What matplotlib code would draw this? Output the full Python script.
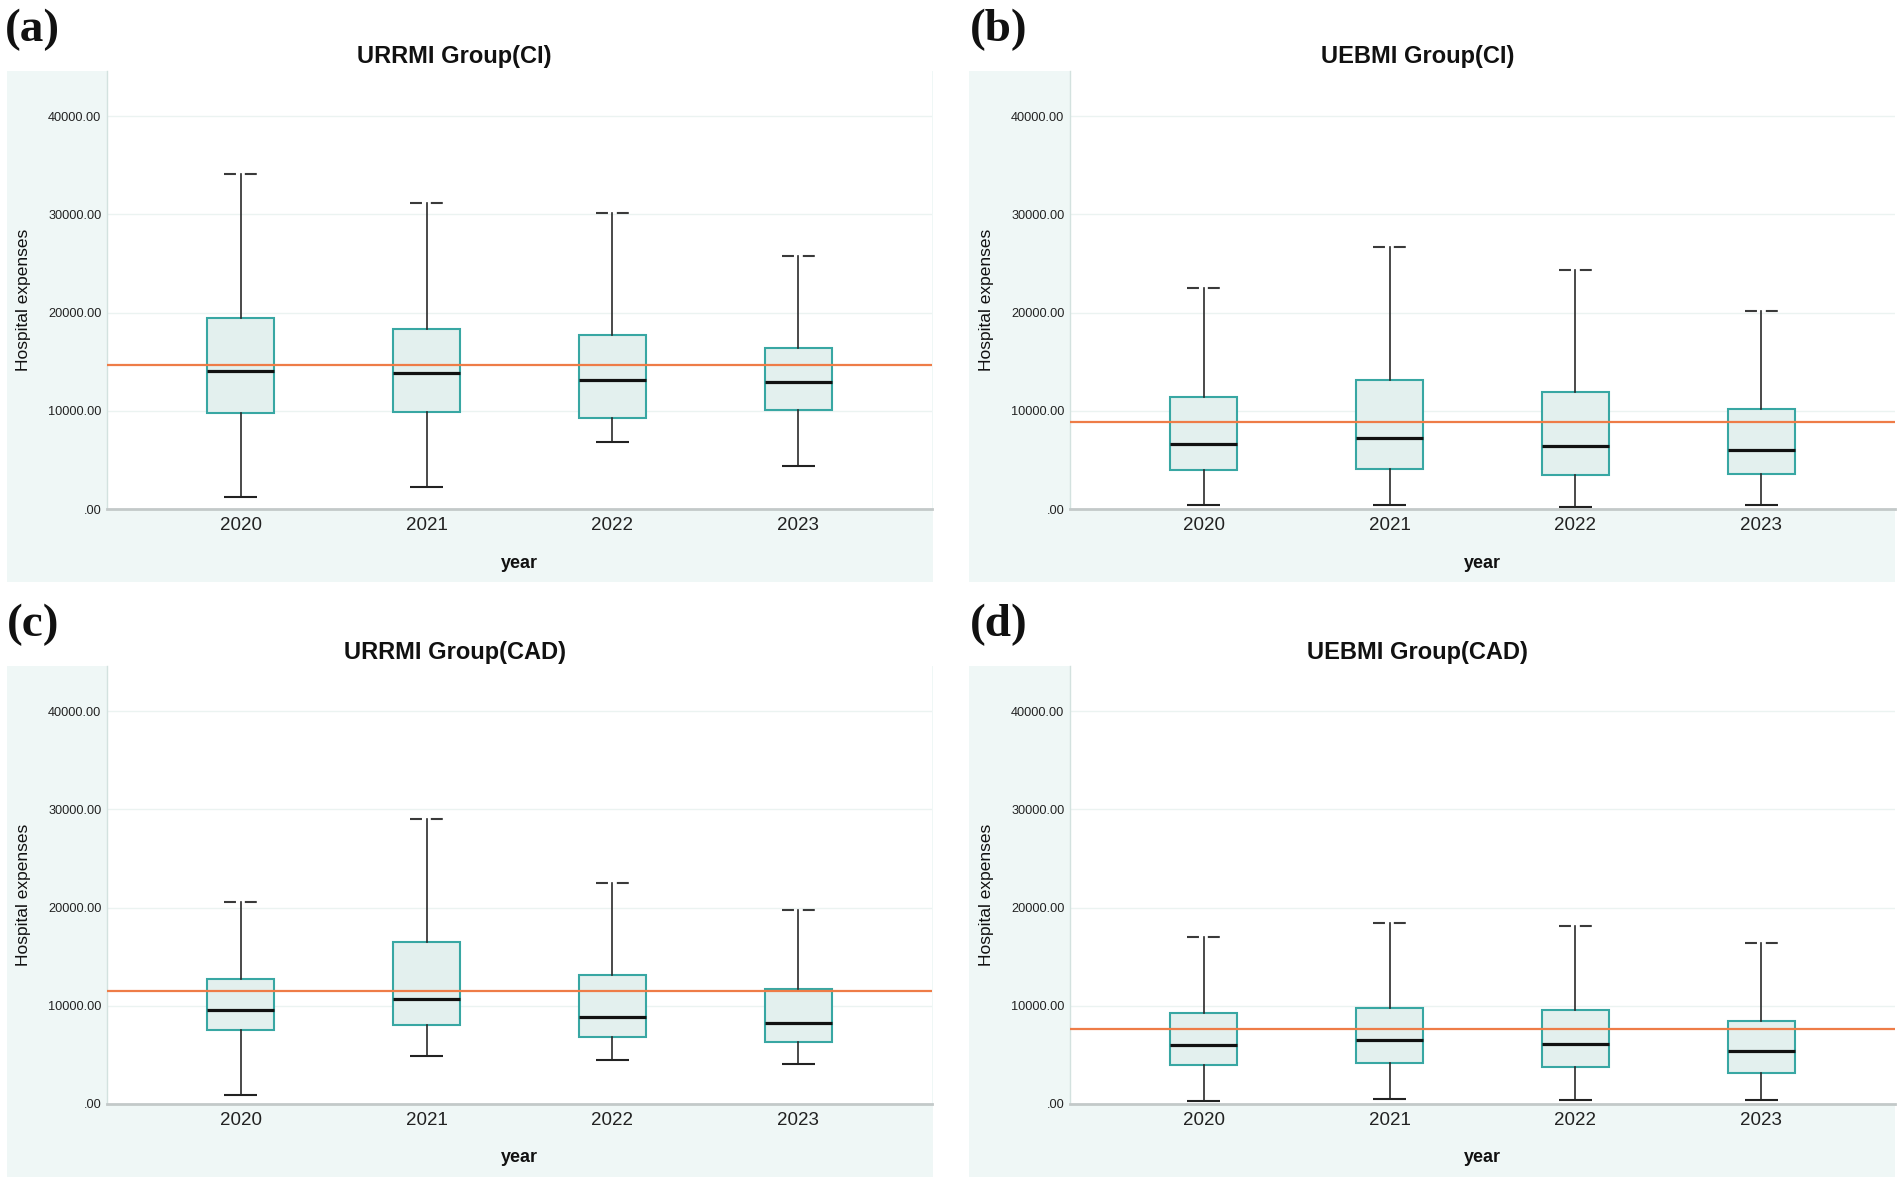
import matplotlib
matplotlib.use("Agg")
import matplotlib.pyplot as plt
from matplotlib.patches import Rectangle

plt.rcParams['font.family'] = ['Liberation Sans', 'DejaVu Sans']
plt.rcParams['lines.scale_dashes'] = False

# ---------------- data ----------------
years = ['2020', '2021', '2022', '2023']
ytick_values = [0, 10000, 20000, 30000, 40000]
ytick_labels = ['.00', '10000.00', '20000.00', '30000.00', '40000.00']

panel_letters = ['(a)', '(b)', '(c)', '(d)']
panel_titles = ['URRMI Group(CI)', 'UEBMI Group(CI)', 'URRMI Group(CAD)', 'UEBMI Group(CAD)']

# (a) URRMI Group(CI)
a_whislo = [1220, 2290, 6830, 4350]
a_q1 = [9770, 9850, 9280, 10120]
a_med = [14010, 13820, 13130, 12980]
a_q3 = [19470, 18360, 17670, 16410]
a_whishi = [34080, 31150, 30190, 25800]
a_mean = 14660

# (b) UEBMI Group(CI)
b_whislo = [420, 420, 190, 420]
b_q1 = [4010, 4120, 3510, 3550]
b_med = [6570, 7180, 6410, 6030]
b_q3 = [11410, 13130, 11870, 10230]
b_whishi = [22520, 26640, 24310, 20190]
b_mean = 8860

# (c) URRMI Group(CAD)
c_whislo = [880, 4910, 4490, 4100]
c_q1 = [7520, 8010, 6830, 6330]
c_med = [9590, 10740, 8860, 8280]
c_q3 = [12730, 16530, 13110, 11730]
c_whishi = [20550, 28990, 22510, 19750]
c_mean = 11540

# (d) UEBMI Group(CAD)
d_whislo = [310, 460, 380, 380]
d_q1 = [3990, 4140, 3760, 3110]
d_med = [6020, 6520, 6140, 5410]
d_q3 = [9240, 9820, 9550, 8480]
d_whishi = [17020, 18410, 18140, 16410]
d_mean = 7670

panels = [
    (a_whislo, a_q1, a_med, a_q3, a_whishi, a_mean),
    (b_whislo, b_q1, b_med, b_q3, b_whishi, b_mean),
    (c_whislo, c_q1, c_med, c_q3, c_whishi, c_mean),
    (d_whislo, d_q1, d_med, d_q3, d_whishi, d_mean),
]

# ---------------- layout (pixels) ----------------
W, H = 1902, 1183
fig = plt.figure(figsize=(W / 100, H / 100), dpi=100)
fig.patch.set_facecolor('white')

MINT = '#eff7f6'
TEAL = '#38a7a3'
BOXFILL = '#e3f0ee'
ORANGE = '#ee7c47'

plot_lefts = [107, 1070, 107, 1070]
plot_w = 825
plot_tops = [71, 71, 666, 666]
plot_h = 438
mint_lefts = [7, 969, 7, 969]
mint_w = 926
mint_h = 511
title_x = [454.5, 1417.5, 454.5, 1417.5]
title_y = [57, 57, 652, 652]
letter_x = [5, 970, 7, 970]
letter_y = [30, 30, 625, 625]

for i in range(4):
    whislo, q1, med, q3, whishi, mean = panels[i]

    # mint background panel
    fig.add_artist(Rectangle((mint_lefts[i] / W, 1 - (plot_tops[i] + mint_h) / H),
                             mint_w / W, mint_h / H, transform=fig.transFigure,
                             facecolor=MINT, edgecolor='none', zorder=-5))

    ax = fig.add_axes([plot_lefts[i] / W, 1 - (plot_tops[i] + plot_h) / H,
                       plot_w / W, plot_h / H])
    ax.set_facecolor('white')

    stats = []
    for k in range(len(years)):
        stats.append(dict(label=years[k], whislo=whislo[k], q1=q1[k], med=med[k],
                          q3=q3[k], whishi=whishi[k], fliers=[]))

    bp = ax.bxp(stats, positions=list(range(len(years))), widths=0.36,
                capwidths=0.177, patch_artist=True, showfliers=False,
                boxprops=dict(facecolor=BOXFILL, edgecolor=TEAL, linewidth=1.5),
                medianprops=dict(color='#111111', linewidth=2.3, solid_capstyle='butt'),
                whiskerprops=dict(color='#2a2a2a', linewidth=1.2),
                capprops=dict(color='#222222', linewidth=1.5, solid_capstyle='butt'),
                zorder=2)
    # upper caps drawn as split dashes
    for cap in bp['caps'][1::2]:
        cap.set_linestyle((0, (8.6, 6.4)))
        cap.set_dash_capstyle('butt')
        cap.set_color('#3a3a3a')

    ax.axhline(mean, color=ORANGE, linewidth=1.6, zorder=4)

    ax.set_xlim(-0.72, 3.72)
    ax.set_ylim(0, 44600)
    ax.set_yticks(ytick_values)
    ax.set_yticklabels(ytick_labels)
    ax.yaxis.grid(True, color='#ebf3f1', linewidth=1.0, zorder=0)
    ax.set_axisbelow(True)

    ax.tick_params(axis='y', length=0, pad=4, labelsize=9.2, labelcolor='#222222')
    ax.tick_params(axis='x', length=0, pad=6, labelsize=13.5, labelcolor='#222222')

    for s in ['top', 'right']:
        ax.spines[s].set_visible(False)
    ax.spines['left'].set_color('#d3e2df')
    ax.spines['left'].set_linewidth(1.0)
    ax.spines['bottom'].set_color('#c3c9c9')
    ax.spines['bottom'].set_linewidth(2.0)

    ax.set_xlabel('year', fontsize=13, fontweight='bold', color='#111111', va='center')
    ax.xaxis.set_label_coords(0.5, -54 / plot_h)
    ax.set_ylabel('Hospital expenses', fontsize=12.5, color='#111111', va='center', ha='center')
    ax.yaxis.set_label_coords(-(plot_lefts[i] - mint_lefts[i] - 17) / plot_w, 0.477)

    fig.text(title_x[i] / W, 1 - title_y[i] / H, panel_titles[i], fontsize=17,
             fontweight='bold', ha='center', va='center', color='#111111')
    fig.text(letter_x[i] / W, 1 - letter_y[i] / H, panel_letters[i], fontsize=34,
             fontweight='bold', ha='left', va='center', color='#111111',
             family=['Liberation Serif', 'DejaVu Serif'])

fig.savefig('out.png', dpi=100, facecolor='white')
